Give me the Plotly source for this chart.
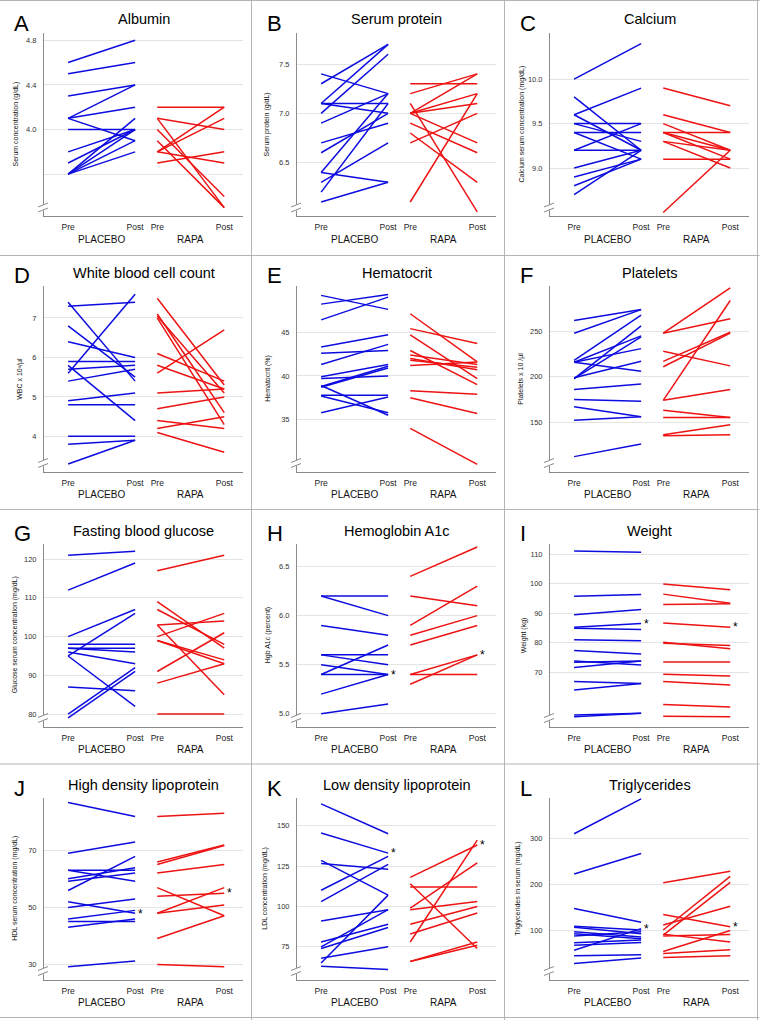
import plotly.graph_objects as go

# ---------------- data ----------------
letters = ["A", "B", "C", "D", "E", "F", "G", "H", "I", "J", "K", "L"]
titles = ["Albumin", "Serum protein", "Calcium", "White blood cell count", "Hematocrit",
          "Platelets", "Fasting blood glucose", "Hemoglobin A1c", "Weight",
          "High density lipoprotein", "Low density lipoprotein", "Triglycerides"]
y_titles = ["Serum concentration (g/dL)", "Serum protein (g/dL)",
            "Calcium serum concentration (mg/dL)", "WBC x 10³/µl", "Hematocrit (%)",
            "Platelets x 10 /µl", "Glucose serum concentration (mg/dL)", "Hgb A1c (percent)",
            "Weight (kg)", "HDL serum concentration (mg/dL)", "LDL concentration (mg/dL)",
            "Triglycerides in serum (mg/dL)"]
groups = ["PLACEBO", "RAPA"]
x_labels = ["Pre", "Post", "Pre", "Post"]

albumin_placebo_pre = [4.6, 4.5, 4.3, 4.1, 4.1, 4.1, 4.0, 3.8, 3.7, 3.6, 3.6, 3.6, 3.6]
albumin_placebo_post = [4.8, 4.6, 4.4, 4.4, 4.2, 3.9, 4.0, 4.0, 4.0, 4.1, 4.0, 3.9, 3.8]
albumin_rapa_pre = [4.2, 4.1, 4.1, 4.0, 3.9, 3.8, 3.8, 3.8, 3.7]
albumin_rapa_post = [4.2, 4.0, 3.3, 3.4, 3.3, 4.2, 4.1, 3.7, 3.8]
albumin_ticks = [3.6, 4.0, 4.4, 4.8]
albumin_ticktext = ["", "4.0", "4.4", "4.8"]

protein_placebo_pre = [7.4, 7.3, 7.1, 7.1, 7.1, 7.0, 6.9, 6.7, 6.6, 6.4, 6.4, 6.3, 6.2, 6.1]
protein_placebo_post = [7.2, 7.7, 7.7, 7.1, 7.0, 7.6, 7.2, 6.9, 7.0, 6.3, 7.2, 6.7, 7.1, 6.3]
protein_rapa_pre = [7.3, 7.2, 7.0, 7.0, 7.0, 7.0, 7.1, 6.9, 6.8, 6.7, 6.1]
protein_rapa_post = [7.3, 7.4, 7.4, 7.2, 7.1, 6.7, 6.0, 6.6, 6.3, 7.0, 7.2]
protein_ticks = [6.5, 7.0, 7.5]
protein_ticktext = ["6.5", "7.0", "7.5"]

calcium_placebo_pre = [10.0, 9.8, 9.6, 9.6, 9.5, 9.5, 9.4, 9.4, 9.2, 9.2, 9.0, 8.9, 8.8, 8.7]
calcium_placebo_post = [10.4, 9.2, 9.9, 9.2, 9.5, 9.3, 9.4, 9.1, 9.5, 9.2, 9.2, 9.1, 9.1, 9.2]
calcium_rapa_pre = [9.9, 9.6, 9.5, 9.4, 9.4, 9.4, 9.3, 9.3, 9.1, 8.5]
calcium_rapa_post = [9.7, 9.4, 9.2, 9.4, 9.1, 9.2, 9.2, 9.0, 9.1, 9.2]
calcium_ticks = [9.0, 9.5, 10.0]
calcium_ticktext = ["9.0", "9.5", "10.0"]

wbc_placebo_pre = [7.3, 7.4, 6.8, 6.4, 5.9, 5.7, 5.6, 5.8, 5.4, 4.9, 4.8, 4.0, 3.8, 3.3]
wbc_placebo_post = [7.4, 5.4, 5.5, 6.0, 5.9, 5.8, 7.6, 4.4, 5.7, 5.1, 4.8, 4.0, 3.9, 3.9]
wbc_rapa_pre = [7.5, 7.1, 7.05, 7.0, 6.1, 5.8, 5.6, 5.1, 4.7, 4.4, 4.2, 4.1]
wbc_rapa_post = [5.3, 4.6, 5.1, 4.3, 5.4, 5.2, 6.7, 5.2, 5.0, 4.2, 4.5, 3.6]
wbc_ticks = [4, 5, 6, 7]
wbc_ticktext = ["4", "5", "6", "7"]

hct_placebo_pre = [49.2, 48.2, 46.4, 43.3, 42.6, 41.3, 39.9, 39.7, 38.9, 38.7, 37.8, 37.7, 35.8, 38.8]
hct_placebo_post = [47.6, 49.3, 49.0, 44.7, 42.9, 43.6, 41.3, 40.0, 35.5, 40.9, 37.8, 35.8, 37.6, 41.1]
hct_rapa_pre = [47.1, 45.4, 44.7, 42.9, 42.4, 42.0, 41.8, 41.2, 38.3, 37.5, 34.0]
hct_rapa_post = [41.6, 43.7, 39.7, 39.0, 41.3, 40.7, 41.0, 41.6, 37.9, 35.7, 29.9]
hct_ticks = [35, 40, 45]
hct_ticktext = ["35", "40", "45"]

plt_placebo_pre = [262, 248, 218, 216, 216, 216, 198, 198, 199, 186, 175, 167, 152, 112]
plt_placebo_post = [274, 274, 268, 231, 206, 245, 256, 244, 217, 192, 173, 156, 156, 126]
plt_rapa_pre = [248, 248, 228, 217, 211, 174, 174, 163, 155, 136, 135]
plt_rapa_post = [298, 264, 212, 249, 248, 284, 186, 155, 155, 147, 136]
plt_ticks = [150, 200, 250]
plt_ticktext = ["150", "200", "250"]

glu_placebo_pre = [121, 112, 100, 98, 97, 97, 96, 95, 95, 87, 80, 79]
glu_placebo_post = [122, 119, 107, 98, 97, 96, 93, 106, 82, 86, 92, 91]
glu_rapa_pre = [117, 109, 107, 103, 103, 100, 99, 99, 91, 88, 80]
glu_rapa_post = [121, 97, 98, 104, 85, 106, 94, 93, 101, 93, 80]
glu_ticks = [80, 90, 100, 110, 120]
glu_ticktext = ["80", "90", "100", "110", "120"]

a1c_placebo_pre = [6.2, 6.2, 5.9, 5.6, 5.6, 5.5, 5.4, 5.4, 5.2, 5.0]
a1c_placebo_post = [6.2, 6.0, 5.8, 5.6, 5.5, 5.4, 5.7, 5.4, 5.4, 5.1]
a1c_rapa_pre = [6.4, 6.2, 5.9, 5.8, 5.7, 5.4, 5.3, 5.4]
a1c_rapa_post = [6.7, 6.1, 6.3, 6.0, 5.9, 5.6, 5.6, 5.4]
a1c_ticks = [5.0, 5.5, 6.0, 6.5]
a1c_ticktext = ["5.0", "5.5", "6.0", "6.5"]

wt_placebo_pre = [111.1, 95.8, 89.5, 85.3, 84.9, 81.0, 77.4, 73.8, 73.4, 71.6, 66.9, 64.0, 55.5, 54.9]
wt_placebo_post = [110.7, 96.4, 91.3, 86.5, 84.5, 80.7, 76.2, 72.5, 73.8, 73.8, 66.2, 66.2, 56.1, 56.1]
wt_rapa_pre = [99.9, 96.5, 93.0, 86.7, 80.2, 79.8, 73.5, 69.3, 66.9, 59.1, 55.1]
wt_rapa_post = [98.0, 93.4, 93.2, 85.3, 78.0, 79.1, 73.5, 68.7, 65.7, 58.2, 54.9]
wt_ticks = [70, 80, 90, 100, 110]
wt_ticktext = ["70", "80", "90", "100", "110"]

hdl_placebo_pre = [86.9, 69.1, 63.1, 63.1, 60.1, 59.2, 56.0, 52.0, 50.0, 46.0, 45.1, 43.1, 29.2]
hdl_placebo_post = [82.0, 73.0, 59.2, 63.1, 64.0, 62.1, 68.0, 48.0, 53.0, 49.0, 45.1, 46.0, 31.2]
hdl_rapa_pre = [82.0, 66.0, 65.1, 62.1, 57.0, 54.0, 48.0, 48.0, 39.1, 30.0]
hdl_rapa_post = [83.1, 72.0, 71.8, 65.1, 47.1, 55.0, 57.0, 50.9, 47.1, 29.2]
hdl_ticks = [30, 50, 70]
hdl_ticktext = ["30", "50", "70"]

ldl_placebo_pre = [163.5, 145.5, 128.5, 126.6, 110, 103, 91, 78, 75, 74, 68, 65, 63]
ldl_placebo_post = [145, 133, 107, 123, 131, 126, 98, 89, 98, 87, 75, 107, 61]
ldl_rapa_pre = [118, 114, 112, 98, 89, 83, 78, 66, 66, 99]
ldl_rapa_post = [138, 74, 112, 103, 100, 96, 141, 78, 76, 127]
ldl_ticks = [75, 100, 125, 150]
ldl_ticktext = ["75", "100", "125", "150"]

tg_placebo_pre = [311, 223, 148, 109, 107, 97, 93, 88, 73, 68, 57, 45, 28]
tg_placebo_post = [387, 268, 118, 101, 93, 86, 82, 97, 79, 74, 104, 47, 40]
tg_rapa_pre = [204, 135, 112, 101, 90, 88, 92, 54, 50, 41]
tg_rapa_post = [229, 108, 153, 218, 205, 91, 75, 100, 58, 45]
tg_ticks = [100, 200, 300]
tg_ticktext = ["100", "200", "300"]

# starred (significant) post values: (group, value)
star_h = [("PLACEBO", 5.4), ("RAPA", 5.6)]
star_i = [("PLACEBO", 86.5), ("RAPA", 85.3)]
star_j = [("PLACEBO", 47.8), ("RAPA", 55.1)]
star_k = [("PLACEBO", 133), ("RAPA", 138)]
star_l = [("PLACEBO", 104), ("RAPA", 108)]

# y-axis visible ranges
y_ranges = [[3.225, 4.865], [5.958, 7.815], [8.46, 10.52], [3.11, 7.81],
            [29.08, 50.27], [95.6, 300], [76.8, 123.9], [4.87, 6.73],
            [51.6, 113.5], [24.7, 88.5], [54.8, 167.1], [-7, 389]]

panels = [
    (albumin_placebo_pre, albumin_placebo_post, albumin_rapa_pre, albumin_rapa_post, albumin_ticks, albumin_ticktext, []),
    (protein_placebo_pre, protein_placebo_post, protein_rapa_pre, protein_rapa_post, protein_ticks, protein_ticktext, []),
    (calcium_placebo_pre, calcium_placebo_post, calcium_rapa_pre, calcium_rapa_post, calcium_ticks, calcium_ticktext, []),
    (wbc_placebo_pre, wbc_placebo_post, wbc_rapa_pre, wbc_rapa_post, wbc_ticks, wbc_ticktext, []),
    (hct_placebo_pre, hct_placebo_post, hct_rapa_pre, hct_rapa_post, hct_ticks, hct_ticktext, []),
    (plt_placebo_pre, plt_placebo_post, plt_rapa_pre, plt_rapa_post, plt_ticks, plt_ticktext, []),
    (glu_placebo_pre, glu_placebo_post, glu_rapa_pre, glu_rapa_post, glu_ticks, glu_ticktext, []),
    (a1c_placebo_pre, a1c_placebo_post, a1c_rapa_pre, a1c_rapa_post, a1c_ticks, a1c_ticktext, star_h),
    (wt_placebo_pre, wt_placebo_post, wt_rapa_pre, wt_rapa_post, wt_ticks, wt_ticktext, star_i),
    (hdl_placebo_pre, hdl_placebo_post, hdl_rapa_pre, hdl_rapa_post, hdl_ticks, hdl_ticktext, star_j),
    (ldl_placebo_pre, ldl_placebo_post, ldl_rapa_pre, ldl_rapa_post, ldl_ticks, ldl_ticktext, star_k),
    (tg_placebo_pre, tg_placebo_post, tg_rapa_pre, tg_rapa_post, tg_ticks, tg_ticktext, star_l),
]

# ---------------- layout / style ----------------
W, H = 760, 1020
BLUE = "#0c0ce0"
RED = "#ee1313"
FONT = "Liberation Sans, Arial, Helvetica, sans-serif"
AXIS_COLOR = "#8a8a8a"
GRID_COLOR = "#e4e4e4"
BORDER_COLOR = "#b4b4b4"

group_x = {"PLACEBO": (0.0, 1.0), "RAPA": (1.33, 2.33)}
x_range = [-0.36, 2.61]

col_x0 = [0, 253, 506]
row_y0 = [0, 253, 506, 760]
ax_left, ax_right = 44, 243
row_top = [33, 33, 38, 38]
row_bot = [216, 218.5, 220.5, 219.5]
title_dy = [19, 20, 25, 25]
letter_dy = [23, 23, 27, 28]
ytitle_dx = [15, 13, 15, 20, 15, 15, 15, 15, 18, 15, 12, 12]


def fx(px):
    return px / W


def fy(py):
    return 1 - py / H


fig = go.Figure()
annotations = []
shapes = []
layout_axes = {}

for i, (pp, po, rp, ro, ticks, ticktext, stars) in enumerate(panels):
    r, c = divmod(i, 3)
    X0, Y0 = col_x0[c], row_y0[r]
    top, bot = Y0 + row_top[r], Y0 + row_bot[r]
    left, right = X0 + ax_left, X0 + ax_right
    n = i + 1
    xa = "x" if n == 1 else f"x{n}"
    ya = "y" if n == 1 else f"y{n}"

    for grp, pre, post, color in (("PLACEBO", pp, po, BLUE), ("RAPA", rp, ro, RED)):
        x0, x1 = group_x[grp]
        xs, ys = [], []
        for a, b in zip(pre, post):
            xs += [x0, x1, None]
            ys += [a, b, None]
        fig.add_trace(go.Scatter(x=xs, y=ys, mode="lines", xaxis=xa, yaxis=ya,
                                 line=dict(color=color, width=1.5),
                                 hoverinfo="skip", showlegend=False))

    tickvals = [group_x["PLACEBO"][0], group_x["PLACEBO"][1], group_x["RAPA"][0], group_x["RAPA"][1]]
    layout_axes["xaxis" if n == 1 else f"xaxis{n}"] = dict(
        domain=[fx(left), fx(right)], range=x_range, anchor=ya,
        tickvals=tickvals, ticktext=x_labels, ticks="", ticklabelstandoff=3,
        tickfont=dict(family=FONT, size=8.5, color="#222"),
        showline=True, linecolor=AXIS_COLOR, linewidth=1,
        showgrid=False, zeroline=False, fixedrange=True)
    layout_axes["yaxis" if n == 1 else f"yaxis{n}"] = dict(
        domain=[fy(bot), fy(top)], range=y_ranges[i], anchor=xa,
        tickvals=ticks, ticktext=ticktext, ticks="", ticklabelstandoff=5,
        tickfont=dict(family=FONT, size=7.5, color="#333"),
        showline=True, linecolor=AXIS_COLOR, linewidth=1,
        showgrid=True, gridcolor=GRID_COLOR, gridwidth=1,
        zeroline=False, fixedrange=True)

    # panel letter
    annotations.append(dict(text=letters[i], xref="paper", yref="paper",
                            x=fx(X0 + 12), y=fy(Y0 + letter_dy[r]), xanchor="left", yanchor="middle",
                            showarrow=False, font=dict(family=FONT, size=22, color="#000")))
    # title
    annotations.append(dict(text=titles[i], xref="paper", yref="paper",
                            x=fx((left + right) / 2), y=fy(Y0 + title_dy[r]),
                            xanchor="center", yanchor="middle",
                            showarrow=False, font=dict(family=FONT, size=14.5, color="#000")))
    # y title
    annotations.append(dict(text=y_titles[i], xref="paper", yref="paper", textangle=-90,
                            x=fx(X0 + ytitle_dx[i]), y=fy((top + bot) / 2),
                            xanchor="center", yanchor="middle",
                            showarrow=False, font=dict(family=FONT, size=7, color="#111")))
    # group labels
    for grp in groups:
        gx = sum(group_x[grp]) / 2
        annotations.append(dict(text=grp, xref=xa, yref="paper", x=gx, y=fy(bot + 23),
                                xanchor="center", yanchor="middle", showarrow=False,
                                font=dict(family=FONT, size=10, color="#111")))
    # significance stars
    for grp, val in stars:
        annotations.append(dict(text="*", xref=xa, yref=ya, x=group_x[grp][1], y=val,
                                xanchor="left", yanchor="middle", xshift=1, showarrow=False,
                                font=dict(family=FONT, size=12, color="#000")))

    # axis break marks
    shapes.append(dict(type="line", xref="paper", yref="paper",
                       x0=fx(left), x1=fx(left), y0=fy(bot - 11.5), y1=fy(bot - 5.5),
                       line=dict(color="white", width=3)))
    for off in (4, 9):
        shapes.append(dict(type="line", xref="paper", yref="paper",
                           x0=fx(left - 6), y0=fy(bot - off), x1=fx(left + 4), y1=fy(bot - off - 4),
                           line=dict(color=AXIS_COLOR, width=1)))

# panel borders
for vx in (251.5, 504.5, 757.5):
    shapes.append(dict(type="line", xref="paper", yref="paper", x0=fx(vx), x1=fx(vx), y0=0, y1=1,
                       line=dict(color=BORDER_COLOR, width=1)))
for hy in (0.5, 255.5, 509.5, 764, 1017.5):
    shapes.append(dict(type="line", xref="paper", yref="paper", x0=0, x1=fx(759.5), y0=fy(hy), y1=fy(hy),
                       line=dict(color=BORDER_COLOR, width=1)))

fig.update_layout(width=W, height=H, margin=dict(l=0, r=0, t=0, b=0),
                  paper_bgcolor="white", plot_bgcolor="white",
                  showlegend=False, annotations=annotations, shapes=shapes,
                  font=dict(family=FONT), **layout_axes)

fig.write_html("out.html", config={"displayModeBar": False, "staticPlot": True},
               post_script="document.body.style.margin='0';document.body.style.overflow='hidden';")
